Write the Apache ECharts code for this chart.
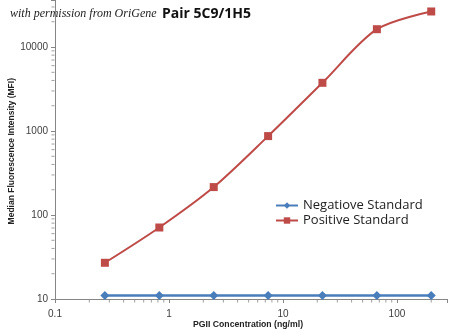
<!DOCTYPE html>
<html><head><meta charset="utf-8">
<script src="https://cdn.jsdelivr.net/npm/echarts@6/dist/echarts.min.js"></script>
<style>html,body{margin:0;padding:0;background:#fff}#c{width:450px;height:336px}</style>
</head><body><div id="c"></div>
<script>
const concentrations = [0.274, 0.823, 2.47, 7.41, 22.2, 66.7, 200];
const negativeStandard = [11, 11, 11, 11, 11, 11, 11];
const positiveStandard = [27, 71, 215, 870, 3750, 16300, 26500];
const seriesNames = ['Negatiove Standard', 'Positive Standard'];
const chartTitle = 'Pair 5C9/1H5';
const creditText = 'with permission from OriGene';
const xAxisTitle = 'PGII Concentration (ng/ml)';
const yAxisTitle = 'Median Fluorescence Intensity (MFI)';
const xMinorTicks = [0.2,0.3,0.4,0.5,0.6,0.7,0.8,0.9,2,3,4,5,6,7,8,9,20,30,40,50,60,70,80,90,200];
const yMinorTicks = [20,30,40,50,60,70,80,90,200,300,400,500,600,700,800,900,2000,3000,4000,5000,6000,7000,8000,9000,20000,30000];
const xRange = [0.1, 275];
const yRange = [10, 36300];

const chart = echarts.init(document.getElementById('c'), null, {renderer: 'canvas'});
const fmt = v => { const n = Number(Number(v).toPrecision(6)); const l = Math.log10(n); return Math.abs(l - Math.round(l)) < 1e-6 ? String(n) : ''; };
const axisCommon = {
  type: 'log', logBase: 10,
  axisLine: {show: true, lineStyle: {color: '#868686', width: 1}},
  axisTick: {show: true, inside: false, length: 4, lineStyle: {color: '#868686'}},
  splitLine: {show: false},
  axisLabel: {color: '#404040', fontFamily: 'Liberation Sans', fontSize: 10, formatter: fmt, showMinLabel: true, showMaxLabel: true}
};
chart.setOption({
  animation: false,
  backgroundColor: '#fff',
  grid: {left: 55, top: 0, right: 0, bottom: 37, containLabel: false},
  xAxis: Object.assign({}, axisCommon, {min: xRange[0], max: xRange[1], axisLabel: Object.assign({}, axisCommon.axisLabel, {margin: 10})}),
  yAxis: Object.assign({}, axisCommon, {min: yRange[0], max: yRange[1], axisLabel: Object.assign({}, axisCommon.axisLabel, {margin: 7})}),
  legend: {
    orient: 'vertical', left: 270, top: 194, itemGap: 2, itemWidth: 22, itemHeight: 8,
    textStyle: {fontFamily: 'Open Sans', fontSize: 13, color: '#222'},
    data: seriesNames
  },
  graphic: [
    {type: 'text', left: 10, top: 8, style: {text: creditText, font: 'italic 12px "Liberation Serif"', fill: '#222'}},
    {type: 'text', left: 162, top: 7, style: {text: chartTitle, font: 'bold 14px "Open Sans"', fill: '#111'}},
    {type: 'text', left: 193, top: 320, style: {text: xAxisTitle, font: 'bold 8.7px "Liberation Sans"', fill: '#222'}},
    {type: 'text', left: 7, top: 78, rotation: Math.PI / 2, style: {text: yAxisTitle, font: 'bold 8.5px "Liberation Sans"', fill: '#222'}}
  ],
  series: [
    {type: 'scatter', silent: true, z: 1, data: xMinorTicks.map(v => [v, yRange[0]]),
     symbol: 'rect', symbolSize: [1, 3], symbolOffset: [0, 2], itemStyle: {color: '#868686'}, clip: false},
    {type: 'scatter', silent: true, z: 1, data: yMinorTicks.map(v => [xRange[0], v]),
     symbol: 'rect', symbolSize: [3, 1], symbolOffset: [-2, 0], itemStyle: {color: '#868686'}, clip: false},
    {name: seriesNames[0], type: 'line', data: concentrations.map((c, i) => [c, negativeStandard[i]]),
     symbol: 'diamond', symbolSize: 9, color: '#4a7ebb', lineStyle: {width: 2.5, color: '#4a7ebb'}, itemStyle: {color: '#4a7ebb'}},
    {name: seriesNames[1], type: 'line', data: concentrations.map((c, i) => [c, positiveStandard[i]]),
     symbol: 'rect', symbolSize: 8, smooth: 0.3, color: '#be4b48', lineStyle: {width: 2, color: '#be4b48'}, itemStyle: {color: '#be4b48'}}
  ]
});
</script></body></html>
